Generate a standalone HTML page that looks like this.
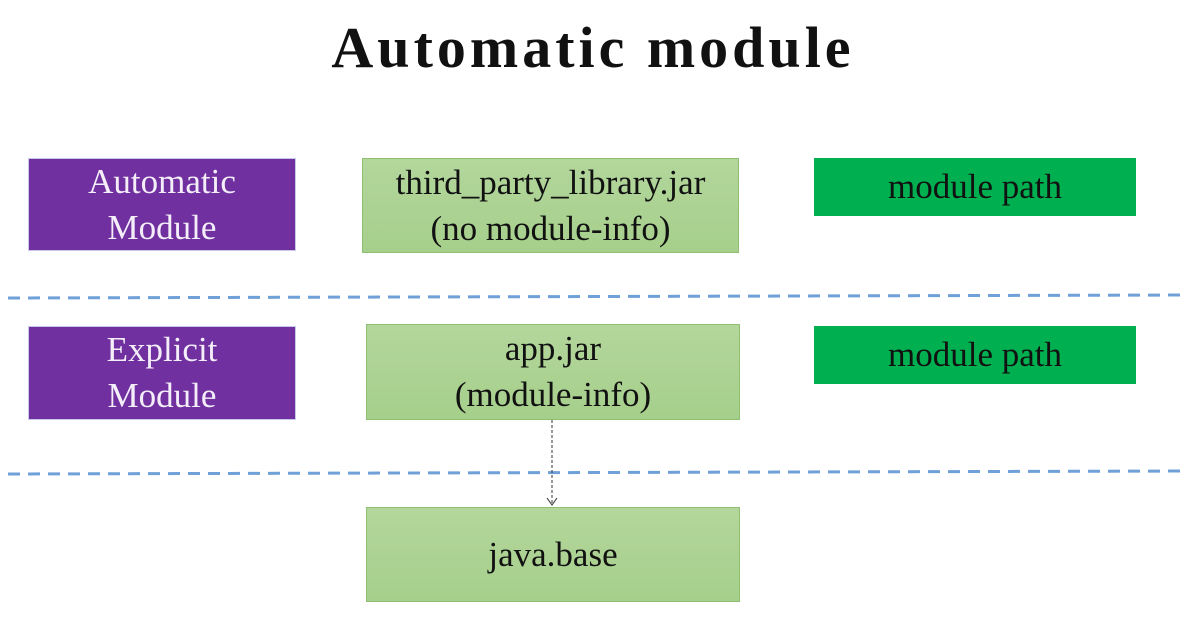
<!DOCTYPE html>
<html><head><style>
body{margin:0;width:1186px;height:641px;background:#fff;position:relative;overflow:hidden;font-family:"Liberation Serif",serif;}
.t{position:absolute;left:0;width:1186px;top:14px;text-align:center;font-size:58px;font-weight:bold;color:#111;letter-spacing:4px;}
.b{position:absolute;display:flex;align-items:center;justify-content:center;text-align:center;font-size:35px;line-height:46px;box-sizing:border-box;white-space:nowrap;}
.p{background:#7030a0;color:#f4eef8;border:1px solid #c8c8e8;}
.g{color:#111;border:1px solid #8fbf70;background:linear-gradient(#b3d69c,#a6cf8b);}
.m{background:#00b050;color:#111;}
</style></head><body>
<div class="t">Automatic module</div>
<div class="b p" style="left:28px;top:158px;width:268px;height:93px">Automatic<br>Module</div>
<div class="b g" style="left:362px;top:158px;width:377px;height:95px">third_party_library.jar<br>(no module-info)</div>
<div class="b m" style="left:814px;top:158px;width:322px;height:58px">module path</div>
<div class="b p" style="left:28px;top:326px;width:268px;height:94px">Explicit<br>Module</div>
<div class="b g" style="left:366px;top:324px;width:374px;height:96px">app.jar<br>(module-info)</div>
<div class="b m" style="left:814px;top:326px;width:322px;height:58px">module path</div>
<div class="b g" style="left:366px;top:507px;width:374px;height:95px">java.base</div>
<svg width="1186" height="641" style="position:absolute;left:0;top:0">
<line x1="8" y1="298" x2="1186" y2="295" stroke="#6fa0d8" stroke-width="3" stroke-dasharray="12,8"/>
<line x1="8" y1="474" x2="1186" y2="471" stroke="#6fa0d8" stroke-width="3" stroke-dasharray="12,8"/>
<line x1="552" y1="420" x2="552" y2="505" stroke="#333" stroke-width="1" stroke-dasharray="3,2"/>
<polyline points="547,498 552,505 557,498" fill="none" stroke="#333" stroke-width="1"/>
</svg>
</body></html>
